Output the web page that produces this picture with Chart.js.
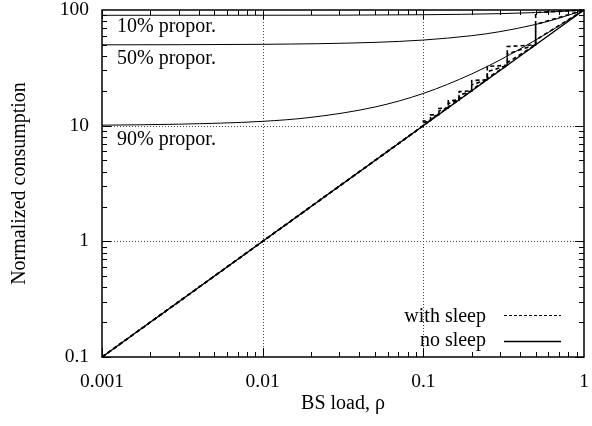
<!DOCTYPE html>
<html>
<head>
<meta charset="utf-8">
<script src="https://cdn.jsdelivr.net/npm/chart.js@4.4.1/dist/chart.umd.min.js"></script>
<style>
  html, body { margin: 0; padding: 0; background: #fff; }
  #wrap { width: 592px; height: 426px; }
</style>
</head>
<body>
<div id="wrap"><canvas id="myChart"></canvas></div>
<script>
// axis ticks
const xTicks = [0.001, 0.01, 0.1, 1];
const yTicks = [0.1, 1, 10, 100];

// no sleep (solid)
const noSleepX = [0.001, 1];
const noSleepY = [0.1, 100];
const prop10X = [0.001, 0.01, 0.1, 0.3, 0.5, 0.7, 1];
const prop10Y = [90, 90.1, 91, 93, 95, 97, 100];
const prop50X = [0.001, 0.01, 0.05, 0.1, 0.2, 0.3, 0.5, 0.7, 1];
const prop50Y = [50, 50.5, 52.5, 55, 60, 65, 75, 85, 100];
const prop90X = [0.001, 0.003, 0.01, 0.02, 0.05, 0.1, 0.2, 0.3, 0.5, 0.7, 1];
const prop90Y = [10.1, 10.3, 10.9, 11.8, 14.5, 19, 28, 37, 55, 73, 100];

// with sleep (dashed)
const sleep10X = [0.001, 0.1, 0.1, 0.111, 0.111, 0.125, 0.125, 0.143, 0.143, 0.167, 0.167, 0.2, 0.2, 0.25, 0.25, 0.333, 0.333, 0.5, 0.5, 1];
const sleep10Y = [0.1, 10, 11.0, 11.1, 12.4, 12.5, 14.1, 14.3, 16.4, 16.7, 19.7, 20, 24.5, 25, 32.5, 33.3, 48.3, 50, 95, 100];
const sleep50X = [0.001, 0.1, 0.1, 0.111, 0.111, 0.125, 0.125, 0.143, 0.143, 0.167, 0.167, 0.2, 0.2, 0.25, 0.25, 0.333, 0.333, 0.5, 0.5, 1];
const sleep50Y = [0.1, 10, 10.6, 11.1, 11.8, 12.5, 13.4, 14.3, 15.5, 16.7, 18.3, 20, 22.5, 25, 29.2, 33.3, 41.7, 50, 75, 100];
const sleep90X = [0.001, 0.1, 0.1, 0.111, 0.111, 0.125, 0.125, 0.143, 0.143, 0.167, 0.167, 0.2, 0.2, 0.25, 0.25, 0.333, 0.333, 0.5, 0.5, 1];
const sleep90Y = [0.1, 10, 10.1, 11.1, 11.25, 12.5, 12.7, 14.3, 14.5, 16.7, 17, 20, 20.5, 25, 25.8, 33.3, 35, 50, 55, 100];

const curveLabels = ['10% propor.', '50% propor.', '90% propor.'];
const curveLabelY = [71, 37.7, 7.5];

const FONT = '"Liberation Serif", "Times New Roman", serif';

function pts(xs, ys) {
  return xs.map((x, i) => ({x: x, y: ys[i]}));
}

function solid(xs, ys, w) {
  return {data: pts(xs, ys), borderColor: '#000', borderWidth: w, cubicInterpolationMode: 'monotone', pointRadius: 0, fill: false};
}
function dashed(xs, ys) {
  return {data: pts(xs, ys), borderColor: '#000', borderWidth: 1.6, borderDash: [4, 3], tension: 0, pointRadius: 0, fill: false};
}

function noPad(s) {
  s.paddingTop = 0; s.paddingBottom = 0; s.paddingLeft = 0; s.paddingRight = 0;
}

const frame = {
  id: 'frame',
  beforeDatasetsDraw(chart) {
    const {ctx, chartArea: a, scales: {x, y}} = chart;
    ctx.save();
    ctx.strokeStyle = '#444';
    ctx.lineWidth = 1;
    ctx.setLineDash([1, 2]);
    xTicks.slice(1, -1).forEach(v => {
      const p = Math.round(x.getPixelForValue(v)) + 0.5;
      ctx.beginPath(); ctx.moveTo(p, a.top); ctx.lineTo(p, a.bottom); ctx.stroke();
    });
    yTicks.slice(1, -1).forEach(v => {
      const p = Math.round(y.getPixelForValue(v)) + 0.5;
      ctx.beginPath(); ctx.moveTo(a.left, p); ctx.lineTo(a.right, p); ctx.stroke();
    });
    ctx.restore();
  },
  afterDraw(chart) {
    const {ctx, chartArea: a, scales: {x, y}} = chart;
    ctx.save();
    ctx.strokeStyle = '#000';
    ctx.lineWidth = 1;
    // minor + major ticks on all four sides
    xTicks.slice(0, -1).forEach(d => {
      for (let m = 1; m <= 9; m++) {
        const p = Math.round(x.getPixelForValue(d * m)) + 0.5;
        const len = m === 1 ? 9 : 5;
        ctx.beginPath();
        ctx.moveTo(p, a.bottom); ctx.lineTo(p, a.bottom - len);
        ctx.moveTo(p, a.top); ctx.lineTo(p, a.top + len);
        ctx.stroke();
      }
    });
    yTicks.slice(0, -1).forEach(d => {
      for (let m = 1; m <= 9; m++) {
        const p = Math.round(y.getPixelForValue(d * m)) + 0.5;
        const len = m === 1 ? 9 : 5;
        ctx.beginPath();
        ctx.moveTo(a.left, p); ctx.lineTo(a.left + len, p);
        ctx.moveTo(a.right, p); ctx.lineTo(a.right - len, p);
        ctx.stroke();
      }
    });
    ctx.lineWidth = 1.5;
    ctx.strokeRect(a.left, a.top, a.right - a.left, a.bottom - a.top);

    // curve labels
    ctx.fillStyle = '#000';
    ctx.font = '20px ' + FONT;
    ctx.textBaseline = 'middle';
    ctx.textAlign = 'left';
    curveLabels.forEach((t, i) => {
      ctx.fillText(t, a.left + 15, y.getPixelForValue(curveLabelY[i]));
    });

    // legend
    ctx.textAlign = 'right';
    ctx.fillText('with sleep', 486, 317);
    ctx.fillText('no sleep', 486, 341);
    ctx.lineWidth = 1.2;
    ctx.setLineDash([3, 2]);
    ctx.beginPath(); ctx.moveTo(504, 315.5); ctx.lineTo(561, 315.5); ctx.stroke();
    ctx.setLineDash([]);
    ctx.lineWidth = 1.5;
    ctx.beginPath(); ctx.moveTo(504, 341.5); ctx.lineTo(561, 341.5); ctx.stroke();
    ctx.restore();
  }
};

const ctx = document.getElementById('myChart').getContext('2d');
const myChart = new Chart(ctx, {
  type: 'line',
  data: {
    datasets: [
      dashed(sleep10X, sleep10Y),
      dashed(sleep50X, sleep50Y),
      dashed(sleep90X, sleep90Y),
      solid(prop10X, prop10Y, 1),
      solid(prop50X, prop50Y, 1),
      solid(prop90X, prop90Y, 1),
      solid(noSleepX, noSleepY, 1.5)
    ]
  },
  options: {
    responsive: true,
    maintainAspectRatio: false,
    animation: false,
    layout: {padding: {top: 10, right: 8, left: 0, bottom: 0}},
    plugins: {legend: {display: false}, tooltip: {enabled: false}},
    clip: false,
    scales: {
      x: {
        type: 'logarithmic', min: 0.001, max: 1,
        grid: {display: false, drawTicks: false},
        border: {display: false},
        afterBuildTicks: s => { s.ticks = xTicks.map(v => ({value: v})); },
        afterFit: s => { s.height = 69; noPad(s); },
        ticks: {color: '#000', font: {family: FONT, size: 19.5}, padding: 13, maxRotation: 0, autoSkip: false,
                callback: v => String(v)},
        title: {display: true, text: 'BS load, ρ', color: '#000', font: {family: FONT, size: 20},
                padding: {top: 0, bottom: 10}}
      },
      y: {
        type: 'logarithmic', min: 0.1, max: 100,
        grid: {display: false, drawTicks: false},
        border: {display: false},
        afterBuildTicks: s => { s.ticks = yTicks.map(v => ({value: v})); },
        afterFit: s => { s.width = 102; noPad(s); },
        ticks: {color: '#000', font: {family: FONT, size: 19.5}, padding: 13, autoSkip: false,
                callback: v => String(v)},
        title: {display: true, text: 'Normalized consumption', color: '#000', font: {family: FONT, size: 20},
                padding: {top: 8, bottom: 0}}
      }
    }
  },
  plugins: [frame]
});
</script>
</body>
</html>
